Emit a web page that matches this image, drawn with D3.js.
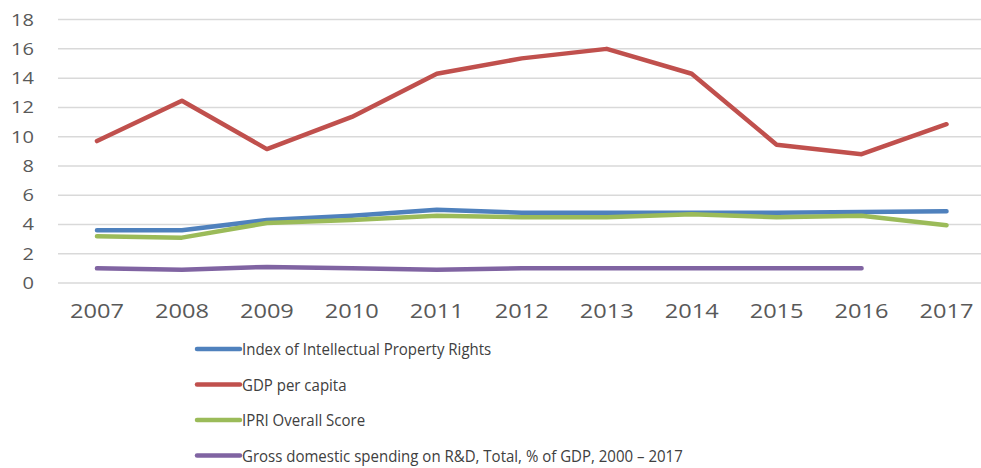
<!DOCTYPE html>
<html>
<head>
<meta charset="utf-8">
<script src="https://cdn.jsdelivr.net/npm/d3@7"></script>
<style>
  body { margin: 0; background: #fff; }
  text { font-family: "Open Sans", sans-serif; }
</style>
</head>
<body>
<svg id="chart" width="981" height="468"></svg>
<script>
const years = ["2007","2008","2009","2010","2011","2012","2013","2014","2015","2016","2017"]
const ipr   = [3.6, 3.6, 4.3, 4.6, 5.0, 4.8, 4.8, 4.8, 4.8, 4.85, 4.9]
const gdp   = [9.7, 12.45, 9.15, 11.35, 14.3, 15.35, 16.0, 14.3, 9.45, 8.8, 10.85]
const ipri  = [3.2, 3.1, 4.1, 4.3, 4.6, 4.5, 4.5, 4.7, 4.5, 4.6, 3.95]
const rnd   = [1.0, 0.9, 1.1, 1.0, 0.9, 1.0, 1.0, 1.0, 1.0, 1.0, null]
const yTicks = [0, 2, 4, 6, 8, 10, 12, 14, 16, 18]

const series = [
  {name: "Index of Intellectual Property Rights", values: ipr, color: "#4f81bd"},
  {name: "GDP per capita", values: gdp, color: "#c0504d"},
  {name: "IPRI Overall Score", values: ipri, color: "#9bbb59"},
  {name: "Gross domestic spending on R&D, Total, % of GDP, 2000 \u2013 2017", values: rnd, color: "#8064a2"}
]

const svg = d3.select("#chart")

const x = d3.scalePoint()
  .domain(years)
  .range([54.5, 989])
  .padding(0.5)

const y = d3.scaleLinear()
  .domain([0, 18])
  .range([283, 19.6])

// gridlines
svg.append("g")
  .selectAll("line")
  .data(yTicks)
  .enter()
  .append("line")
  .attr("x1", 58)
  .attr("x2", 981)
  .attr("y1", d => y(d))
  .attr("y2", d => y(d))
  .style("stroke", "#d9d9d9")
  .style("stroke-width", 1.5)

// y labels (source image is stretched sideways a bit)
svg.append("g")
  .selectAll("text")
  .data(yTicks)
  .enter()
  .append("text")
  .attr("transform", d => "translate(34," + (y(d) + 6) + ") scale(1.18,1)")
  .style("text-anchor", "end")
  .style("font-size", "17px")
  .style("fill", "#595959")
  .text(d => d)

// x labels
svg.append("g")
  .selectAll("text")
  .data(years)
  .enter()
  .append("text")
  .attr("transform", d => "translate(" + x(d) + ",318) scale(1.18,1)")
  .style("text-anchor", "middle")
  .style("font-size", "20px")
  .style("fill", "#595959")
  .text(d => d)

const line = d3.line()
  .defined(d => d.v != null)
  .x(d => x(d.year))
  .y(d => y(d.v))

svg.append("g")
  .selectAll("path")
  .data(series)
  .enter()
  .append("path")
  .attr("d", s => line(s.values.map((v, i) => ({year: years[i], v: v}))))
  .style("fill", "none")
  .style("stroke", s => s.color)
  .style("stroke-width", 4.5)
  .style("stroke-linejoin", "round")
  .style("stroke-linecap", "round")

// legend
const legend = svg.append("g")
  .selectAll("g")
  .data(series)
  .enter()
  .append("g")
  .attr("transform", (d, i) => "translate(197," + (349 + i * 35.5) + ")")

legend.append("line")
  .attr("x1", 0)
  .attr("x2", 43)
  .style("stroke", d => d.color)
  .style("stroke-width", 4.5)
  .style("stroke-linecap", "round")

legend.append("text")
  .attr("transform", "translate(45,6) scale(0.91,1)")
  .style("font-size", "16.5px")
  .style("fill", "#404040")
  .text(d => d.name)
</script>
</body>
</html>
